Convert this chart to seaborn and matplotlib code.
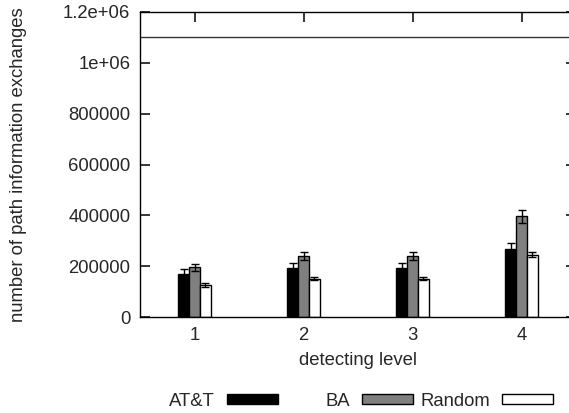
import numpy as np
import pandas as pd
import matplotlib
matplotlib.use("Agg")
import matplotlib.pyplot as plt
from matplotlib.patches import Patch
import seaborn as sns

# detecting levels and measured message counts (mean and error) per topology
levels = ["1", "2", "3", "4"]
series = ["AT&T", "BA", "Random"]
att_vals = [169000, 193000, 193000, 267000]
att_err = [20000, 21000, 21000, 26000]
ba_vals = [195000, 240000, 240000, 396000]
ba_err = [15000, 16000, 16000, 26000]
rnd_vals = [126000, 151000, 151000, 245000]
rnd_err = [6000, 7000, 7000, 9000]
limit_value = 1100000
ytick_vals = [0, 200000, 400000, 600000, 800000, 1000000, 1200000]
ytick_labels = ["0", "200000", "400000", "600000", "800000", "1e+06", "1.2e+06"]

colors = {"AT&T": "#000000", "BA": "#808080", "Random": "#ffffff"}

df = pd.DataFrame({
    "level": levels * 3,
    "series": [s for s in series for _ in levels],
    "value": att_vals + ba_vals + rnd_vals,
    "err": att_err + ba_err + rnd_err,
})

sns.set_style("white")
plt.rcParams["font.family"] = ["Liberation Sans", "DejaVu Sans"]
plt.rcParams["font.size"] = 13

fig = plt.figure(figsize=(5.69, 4.13), dpi=100)
ax = fig.add_axes([140 / 569, 1 - 317 / 413, (576 - 140) / 569, (317 - 12) / 413])

sns.barplot(data=df, x="level", y="value", hue="series", order=levels,
            hue_order=series, palette=colors, width=0.3, gap=0,
            edgecolor="black", linewidth=1, errorbar=None, legend=False, ax=ax)

# error bars at each bar's centre
for patches, s in zip(ax.containers, series):
    sub = df[df["series"] == s].set_index("level").loc[levels]
    xs = [p.get_x() + p.get_width() / 2 for p in patches]
    ax.errorbar(xs, sub["value"].values, yerr=sub["err"].values, fmt="none",
                ecolor="black", elinewidth=1, capsize=3, capthick=1, zorder=5)

ax.axhline(limit_value, color="#333333", lw=1)

ax.set_xlim(-0.5, 3.5)
ax.set_ylim(0, 1200000)
ax.set_yticks(ytick_vals)
ax.set_yticklabels(ytick_labels)
ax.set_xlabel("detecting level", fontsize=13.3, labelpad=6)
ax.set_ylabel("number of path information exchanges", fontsize=13.3, labelpad=26)
ax.tick_params(direction="in", length=7.5, width=1.1, color="black",
               top=True, right=True, bottom=True, left=True,
               labelsize=13.3, pad=7)
for sp in ax.spines.values():
    sp.set_color("black")
    sp.set_linewidth(1)

# one legend entry per series along the bottom
legend_right = {"AT&T": 278, "BA": 413, "Random": 553}
for s in series:
    fig.legend(handles=[Patch(facecolor=colors[s], edgecolor="black", lw=1)],
               labels=[s], loc="center right",
               bbox_to_anchor=(legend_right[s] / 569, 1 - 401.5 / 413),
               frameon=False, markerfirst=False, borderpad=0, borderaxespad=0,
               handlelength=2.75, handleheight=0.45, handletextpad=0.65,
               fontsize=13.3)

fig.savefig("out.png", dpi=100)
